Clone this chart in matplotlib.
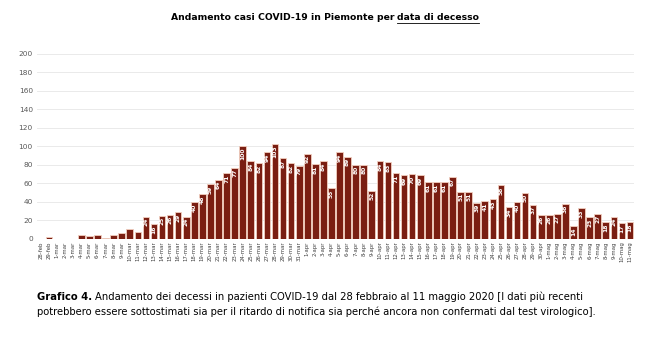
import matplotlib.pyplot as plt
from matplotlib.lines import Line2D

# Data: deaths per day by date of death (Piemonte)
feb_days = ['28-feb', '29-feb']
mar_days = ['%d-mar' % d for d in range(1, 32)]
apr_days = ['%d-apr' % d for d in range(1, 31)]
mag_days = ['%d-mag' % d for d in range(1, 12)]
dates = feb_days + mar_days + apr_days + mag_days

feb_vals = [0, 2]
mar_vals = [0, 0, 0, 4, 3, 4, 1, 4, 6, 11, 7, 24, 16, 25, 26, 29, 24, 40, 48, 59,
            64, 71, 77, 100, 84, 82, 94, 103, 87, 82, 79]
apr_vals = [92, 81, 84, 55, 94, 89, 80, 80, 52, 84, 83, 71, 69, 70, 69, 61, 61, 61,
            67, 51, 51, 39, 41, 43, 58, 34, 40, 50, 37, 26]
mag_vals = [26, 27, 38, 14, 33, 23, 27, 18, 24, 17, 18]
deaths = feb_vals + mar_vals + apr_vals + mag_vals

yticks = list(range(0, 201, 20))

bar_color = '#7a1e12'
edge_color = '#f2cfc0'
font = 'DejaVu Sans'

fig = plt.figure(figsize=(6.5, 3.56), dpi=100)
ax = fig.add_axes([37 / 650, 1 - 238.7 / 356, 597 / 650, (238.7 - 54) / 356])

x = list(range(len(dates)))
bars = ax.bar(x, deaths, width=0.82, color=bar_color, edgecolor=edge_color, linewidth=0.6, zorder=3)

# value labels inside bars
for xi, v in zip(x, deaths):
    if v >= 12:
        ax.text(xi, v - 1.5, str(v), rotation=90, ha='center', va='top',
                fontsize=4.3, color='white', fontweight='bold', family=font, zorder=4)

ax.set_xlim(-0.5, len(dates) - 0.5)
ax.set_ylim(0, 200)
ax.set_yticks(yticks)
ax.set_yticklabels([str(t) for t in yticks], fontsize=5.3, color='#595959', family=font)
ax.set_xticks(x)
ax.set_xticklabels(dates, rotation=90, fontsize=3.9, color='#404040', family=font)
ax.tick_params(axis='both', length=0, pad=3)
ax.tick_params(axis='x', pad=2)
ax.grid(axis='y', color='#e6e6e6', linewidth=0.6, zorder=0)
for s in ax.spines.values():
    s.set_visible(False)

# title with underlined part
t1 = fig.text(0, 1 - 18 / 356, 'Andamento casi COVID-19 in Piemonte per ', fontsize=6.7,
              fontweight='bold', family=font, va='center', ha='left')
t2 = fig.text(0, 1 - 18 / 356, 'data di decesso', fontsize=6.7, fontweight='bold',
              family=font, va='center', ha='left')
fig.canvas.draw()
r = fig.canvas.get_renderer()
w1 = t1.get_window_extent(r).width
w2 = t2.get_window_extent(r).width
start = (650 - w1 - w2) / 2
t1.set_x(start / 650)
t2.set_x((start + w1) / 650)
uy = 1 - 23.2 / 356
fig.add_artist(Line2D([(start + w1) / 650, (start + w1 + w2) / 650], [uy, uy],
                      color='black', linewidth=0.6, transform=fig.transFigure))

# caption
c1 = fig.text(37 / 650, 1 - 297 / 356, 'Grafico 4.', fontsize=7.2, fontweight='bold',
              family=font, va='center', ha='left')
fig.canvas.draw()
wc = c1.get_window_extent(r).width
fig.text((37 + wc + 3) / 650, 1 - 297 / 356,
         'Andamento dei decessi in pazienti COVID-19 dal 28 febbraio al 11 maggio 2020 [I dati più recenti',
         fontsize=7.2, family=font, va='center', ha='left')
fig.text(37 / 650, 1 - 312 / 356,
         'potrebbero essere sottostimati sia per il ritardo di notifica sia perché ancora non confermati dal test virologico].',
         fontsize=7.2, family=font, va='center', ha='left')

fig.savefig('out.png', dpi=100, facecolor='white')
